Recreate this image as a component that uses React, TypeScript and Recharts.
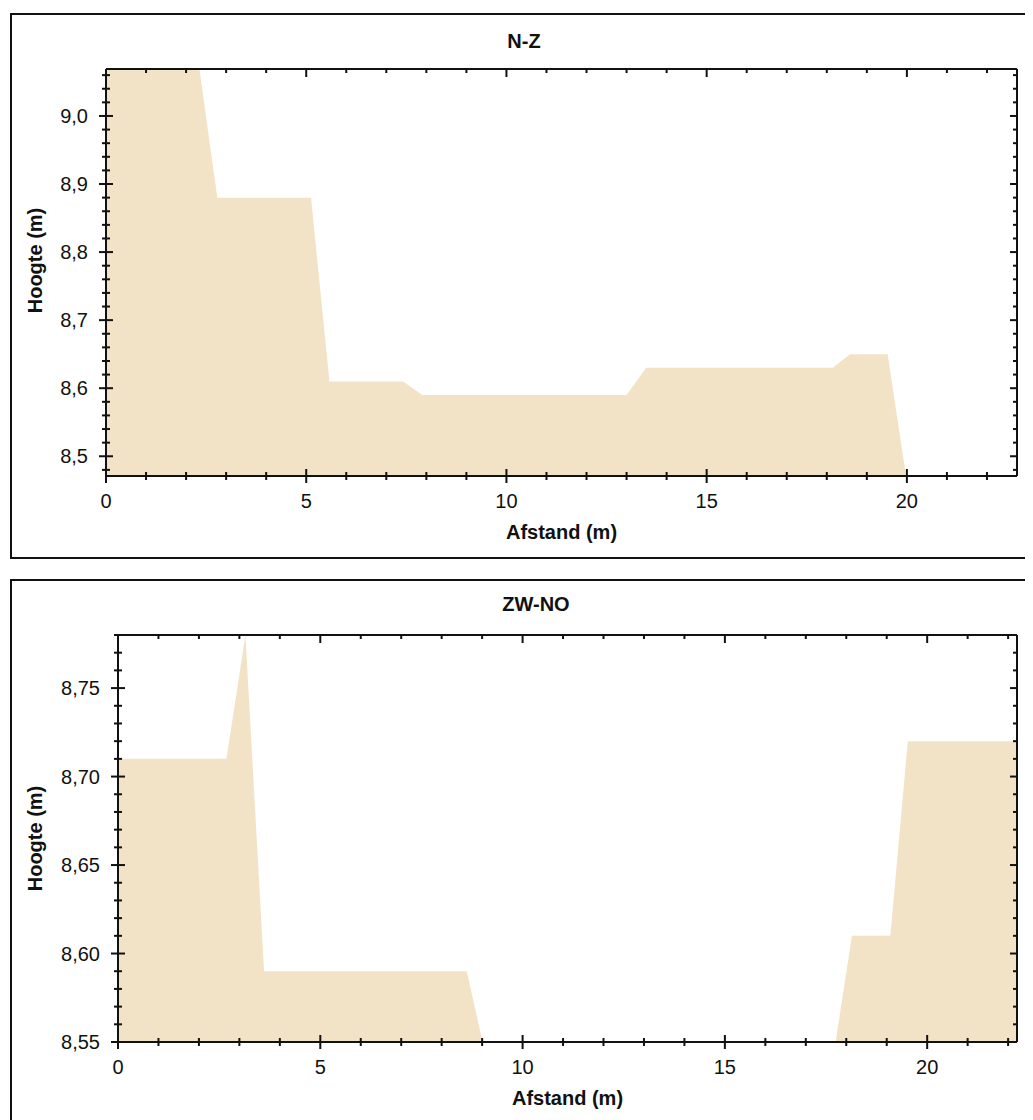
import { AreaChart, Area, XAxis, YAxis } from "recharts";

// N-Z profile (afstand in m, hoogte in m)
const nzAfstand = [0, 2.33, 2.78, 5.12, 5.58, 7.42, 7.9, 13.0, 13.49, 18.15, 18.58, 19.52, 19.98];
const nzHoogte = [9.07, 9.07, 8.88, 8.88, 8.61, 8.61, 8.59, 8.59, 8.63, 8.63, 8.65, 8.65, 8.47];

// ZW-NO profile
const zwAfstand = [0, 2.68, 3.15, 3.61, 8.62, 9.5, 17.4, 18.14, 19.09, 19.52, 22.22];
const zwHoogte = [8.71, 8.71, 8.78, 8.59, 8.59, 8.5, 8.5, 8.61, 8.61, 8.72, 8.72];

const xMajor = [0, 5, 10, 15, 20];
const nzYMajor = [8.5, 8.6, 8.7, 8.8, 8.9, 9.0];
const zwYMajor = [8.55, 8.6, 8.65, 8.7, 8.75];

const FILL = "#F2E3C6";
const INK = "#111";
const FONT = '"Liberation Sans", Arial, sans-serif';
const FS = 20;

const stepTicks = (lo: number, hi: number, step: number) => {
  const out: number[] = [];
  for (let i = Math.ceil(lo / step - 1e-6); i * step <= hi + 1e-6; i++) {
    out.push(Math.round(i * step * 1000) / 1000);
  }
  return out;
};

const isMajor = (v: number, majors: number[]) => majors.some((m) => Math.abs(m - v) < 1e-6);
const fmt = (v: number, d: number) => v.toFixed(d).replace(".", ",");

type Profile = {
  title: string;
  afstand: number[];
  hoogte: number[];
  xMax: number;
  yDomain: [number, number];
  yMajor: number[];
  yStep: number;
  yDecimals: number;
  axisWidth: number;
  top: number;
  titleY: number;
  titleShift: number;
  yLabelShift: number;
};

const ProfileChart = ({ p }: { p: Profile }) => {
  const data = p.afstand.map((x, i) => ({ afstand: x, hoogte: p.hoogte[i] }));
  const xTicks = stepTicks(0, p.xMax, 1);
  const yTicks = stepTicks(p.yDomain[0], p.yDomain[1], p.yStep);
  const textStyle = { fontFamily: FONT, fill: INK };

  const bottomTick = (t: any) => {
    const major = isMajor(t.payload.value, xMajor);
    return (
      <g>
        <line x1={t.x} x2={t.x} y1={t.y - (major ? 7 : 4)} y2={t.y + (major ? 7 : 4)} stroke={INK} strokeWidth={2} />
        {major && (
          <text x={t.x} y={t.y + 25} textAnchor="middle" dominantBaseline="central" fontSize={FS} style={textStyle}>
            {t.payload.value}
          </text>
        )}
      </g>
    );
  };
  const topTick = (t: any) => {
    const major = isMajor(t.payload.value, xMajor);
    return <line x1={t.x} x2={t.x} y1={t.y} y2={t.y + (major ? 8 : 4)} stroke={INK} strokeWidth={2} />;
  };
  const leftTick = (t: any) => {
    const major = isMajor(t.payload.value, p.yMajor);
    return (
      <g>
        <line x1={t.x - (major ? 7 : 4)} x2={t.x + (major ? 7 : 4)} y1={t.y} y2={t.y} stroke={INK} strokeWidth={2} />
        {major && (
          <text x={t.x - 18} y={t.y} textAnchor="end" dominantBaseline="central" fontSize={FS} style={textStyle}>
            {fmt(t.payload.value, p.yDecimals)}
          </text>
        )}
      </g>
    );
  };
  const rightTick = (t: any) => {
    const major = isMajor(t.payload.value, p.yMajor);
    return <line x1={t.x - (major ? 7 : 4)} x2={t.x} y1={t.y} y2={t.y} stroke={INK} strokeWidth={2} />;
  };

  const xLabel = (props: any) => {
    const vb = props.viewBox;
    return (
      <text x={vb.x + vb.width / 2} y={vb.y + 56} textAnchor="middle" dominantBaseline="central" fontSize={FS} fontWeight="bold" style={textStyle}>
        Afstand (m)
      </text>
    );
  };
  const yLabel = (props: any) => {
    const vb = props.viewBox;
    const cx = vb.x + 23;
    const cy = vb.y + vb.height / 2 + p.yLabelShift;
    return (
      <text x={cx} y={cy} transform={`rotate(-90, ${cx}, ${cy})`} textAnchor="middle" dominantBaseline="central" fontSize={FS} fontWeight="bold" style={textStyle}>
        Hoogte (m)
      </text>
    );
  };

  const axisLine = { stroke: INK, strokeWidth: 2 };

  return (
    <div
      style={{
        position: "absolute",
        left: 2,
        top: p.top,
        width: 1036,
        height: 546,
        border: `2px solid ${INK}`,
        boxSizing: "border-box",
        background: "#fff",
      }}
    >
      <div
        style={{
          position: "absolute",
          left: p.titleShift,
          top: p.titleY - 12,
          width: "100%",
          textAlign: "center",
          fontFamily: FONT,
          fontWeight: "bold",
          fontSize: FS,
          lineHeight: "24px",
          color: INK,
        }}
      >
        {p.title}
      </div>
      <div style={{ position: "absolute", left: 0, top: 0 }}>
        <AreaChart width={1030} height={542} data={data} margin={{ top: 53, right: 24, bottom: 0, left: 0 }}>
          <XAxis
            dataKey="afstand"
            type="number"
            domain={[0, p.xMax]}
            allowDataOverflow
            ticks={xTicks}
            interval={0}
            tickSize={0}
            tickMargin={0}
            tick={bottomTick}
            axisLine={axisLine}
            height={81}
            label={{ content: xLabel }}
          />
          <XAxis
            xAxisId="top"
            dataKey="afstand"
            orientation="top"
            type="number"
            domain={[0, p.xMax]}
            allowDataOverflow
            ticks={xTicks}
            interval={0}
            tickSize={0}
            tickMargin={0}
            tick={topTick}
            axisLine={axisLine}
            height={1}
          />
          <YAxis
            type="number"
            domain={p.yDomain}
            allowDataOverflow
            ticks={yTicks}
            interval={0}
            tickSize={0}
            tickMargin={0}
            tick={leftTick}
            axisLine={axisLine}
            width={p.axisWidth}
            label={{ content: yLabel }}
          />
          <YAxis
            yAxisId="right"
            orientation="right"
            type="number"
            domain={p.yDomain}
            allowDataOverflow
            ticks={yTicks}
            interval={0}
            tickSize={0}
            tickMargin={0}
            tick={rightTick}
            axisLine={axisLine}
            width={1}
          />
          <Area
            type="linear"
            dataKey="hoogte"
            stroke="none"
            fill={FILL}
            fillOpacity={1}
            isAnimationActive={false}
            dot={false}
            activeDot={false}
          />
          <Area
            xAxisId="top"
            yAxisId="right"
            type="linear"
            dataKey="hoogte"
            stroke="none"
            fill="none"
            isAnimationActive={false}
            dot={false}
            activeDot={false}
          />
        </AreaChart>
      </div>
    </div>
  );
};

const profiles: Profile[] = [
  {
    title: "N-Z",
    afstand: nzAfstand,
    hoogte: nzHoogte,
    xMax: 22.75,
    yDomain: [8.471, 9.069],
    yMajor: nzYMajor,
    yStep: 0.02,
    yDecimals: 1,
    axisWidth: 94,
    top: 5,
    titleY: 26,
    titleShift: -4,
    yLabelShift: -12,
  },
  {
    title: "ZW-NO",
    afstand: zwAfstand,
    hoogte: zwHoogte,
    xMax: 22.22,
    yDomain: [8.55, 8.78],
    yMajor: zwYMajor,
    yStep: 0.01,
    yDecimals: 2,
    axisWidth: 106,
    top: 571,
    titleY: 23,
    titleShift: 8,
    yLabelShift: 0,
  },
];

export default function App() {
  return (
    <div style={{ position: "relative", width: 1025, height: 1112, overflow: "hidden", background: "#fff" }}>
      {profiles.map((p) => (
        <ProfileChart key={p.title} p={p} />
      ))}
    </div>
  );
}
